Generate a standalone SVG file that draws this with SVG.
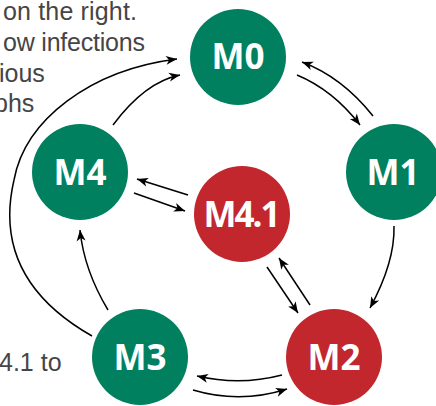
<svg xmlns="http://www.w3.org/2000/svg" width="436" height="406" viewBox="0 0 436 406">
<defs>
<style>
.bg{font-family:"Liberation Sans",Arial,sans-serif;font-size:25px;fill:#454545;}
.g{fill:#00805F;}
.r{fill:#C1272D;}
.lbl{font-family:"Open Sans","Noto Sans",sans-serif;font-weight:bold;font-size:35px;fill:#fff;text-anchor:middle;}
.c{fill:none;stroke:#000;stroke-width:1.5;marker-end:url(#ah);}
</style>
<marker id="ah" viewBox="-1 -5 13 10" refX="11" refY="0" markerWidth="13" markerHeight="10" markerUnits="userSpaceOnUse" orient="auto">
<path d="M0,-4.5 L11,0 L0,4.5 L3,0 Z" fill="#000"/>
</marker>
</defs>
<rect width="436" height="406" fill="#fff"/>
<g id="bgtext" class="bg">
<text x="3" y="20" textLength="134">on the right.</text>
<text x="3" y="51" textLength="142">ow infections</text>
<text x="-1" y="82">ious</text>
<text x="-6" y="112">phs</text>
<text x="-1" y="371">4.1 to</text>
</g>
<g id="connectors">
<path class="c" d="M297,75 Q333,90 360,125"/>
<path class="c" d="M373,116 Q342,77 302,62"/>
<path class="c" d="M394,226 Q395,262 370,308"/>
<path class="c" d="M267,267 L298,313"/>
<path class="c" d="M310,305 L279,258"/>
<path class="c" d="M134,193 L185,211"/>
<path class="c" d="M188,195 L137,179"/>
<path class="c" d="M282,375 Q240,386 197,376"/>
<path class="c" d="M193,390 Q240,404 287,389"/>
<path class="c" d="M108,310 Q84,270 80,230"/>
<path class="c" d="M92,336 C20,295 0,240 14,180 C25,120 90,70 177,59"/>
<path class="c" d="M113,125 Q145,82 180,75"/>
</g>
<g id="M0"><circle class="g" cx="238" cy="57" r="48"/><text class="lbl" x="238" y="69">M0</text></g>
<g id="M1"><circle class="g" cx="394" cy="172" r="48"/><text class="lbl" x="393" y="185">M1</text></g>
<g id="M4"><circle class="g" cx="80" cy="172" r="48"/><text class="lbl" x="80" y="185">M4</text></g>
<g id="M4.1"><circle class="r" cx="242" cy="214" r="48"/><text class="lbl" x="241" y="227" letter-spacing="-2">M4.1</text></g>
<g id="M3"><circle class="g" cx="140" cy="357" r="48"/><text class="lbl" x="140" y="370">M3</text></g>
<g id="M2"><circle class="r" cx="334" cy="357" r="48"/><text class="lbl" x="334" y="370">M2</text></g>
</svg>
